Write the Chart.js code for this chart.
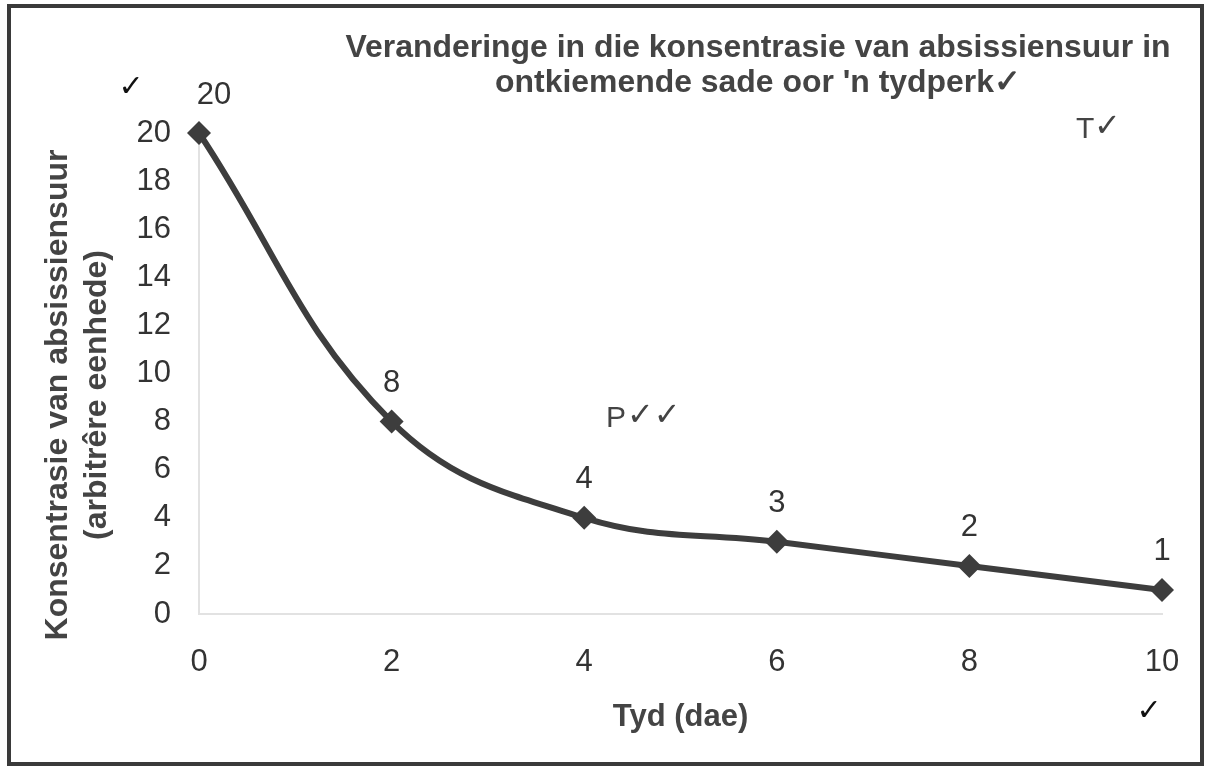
<!DOCTYPE html>
<html>
<head>
<meta charset="utf-8">
<script src="https://cdn.jsdelivr.net/npm/chart.js@4.4.1/dist/chart.umd.min.js"></script>
<style>
    html, body { margin: 0; padding: 0; background: #fff; }
    #wrap { width: 1206px; height: 768px; }
</style>
</head>
<body>
<div id="wrap"><canvas id="graph"></canvas></div>
<script>
// data
const days = [0, 2, 4, 6, 8, 10];
const concentration = [20, 8, 4, 3, 2, 1];

const titleLines = ['Veranderinge in die konsentrasie van absissiensuur in', "ontkiemende sade oor 'n tydperk\u2713"];
const yTitleLines = ['Konsentrasie van absissiensuur', '(arbitr\u00eare eenhede)'];
const xTitle = 'Tyd (dae)';

const FONT = '"Liberation Sans", Arial, sans-serif';

const ctx = document.querySelector('#graph').getContext('2d');

const decorations = {
    id: 'decorations',
    afterDraw(chart) {
        const c = chart.ctx;
        const area = chart.chartArea;
        c.save();

        // frame of the scan
        c.strokeStyle = '#3a3a3a';
        c.lineWidth = 4;
        c.strokeRect(9, 6, 1193, 758);

        // main title, slightly condensed like the original
        c.fillStyle = '#444';
        c.font = 'bold 32px ' + FONT;
        c.textAlign = 'center';
        c.textBaseline = 'middle';
        const sx = 825 / c.measureText(titleLines[0]).width;
        titleLines.forEach((line, i) => {
            c.save();
            c.translate(758, 48 + i * 35);
            c.scale(sx, 1);
            c.fillText(line, 0, 0);
            c.restore();
        });

        // y axis title (two lines, rotated)
        c.save();
        c.translate(58, 395);
        c.rotate(-Math.PI / 2);
        c.font = 'bold 32px ' + FONT;
        c.fillText(yTitleLines[0], 0, 0);
        c.fillText(yTitleLines[1], 0, 39);
        c.restore();

        // x axis title
        c.font = 'bold 31px ' + FONT;
        c.fillText(xTitle, (area.left + area.right) / 2, 717);

        // value labels above the points
        const meta = chart.getDatasetMeta(0);
        c.fillStyle = '#333';
        c.font = '31px ' + FONT;
        meta.data.forEach((pt, i) => {
            const dx = i === 0 ? 15 : 0;
            c.fillText(String(concentration[i]), pt.x + dx, pt.y - 38);
        });

        // marker's ticks
        c.fillStyle = '#111';
        c.font = 'bold 30px "DejaVu Sans", sans-serif';
        c.fillText('\u2713', 131, 88);
        c.fillText('\u2713', 1149, 712);
        c.fillStyle = '#444';
        c.font = '30px ' + FONT;
        c.textAlign = 'left';
        c.fillText('T', 1076, 130);
        c.fillText('P', 606, 419);
        c.font = 'bold 32px "DejaVu Sans", sans-serif';
        c.fillText('\u2713', 1094, 128);
        c.fillText('\u2713\u2713', 627, 417);

        c.restore();
    }
};

const lineChart = new Chart(ctx, {
    type: 'line',
    data: {
        datasets: [{
            label: 'Absissiensuur',
            data: days.map((d, i) => ({x: d, y: concentration[i]})),
            borderColor: '#3d3d3d',
            borderWidth: 6,
            tension: 0.4,
            pointStyle: 'rectRot',
            pointRadius: 12,
            pointBackgroundColor: '#3d3d3d',
            pointBorderWidth: 0,
            clip: false
        }]
    },
    plugins: [decorations],
    options: {
        responsive: true,
        maintainAspectRatio: false,
        animation: false,
        layout: {
            padding: {top: 133, right: 44, bottom: 0, left: 0}
        },
        plugins: {
            legend: {display: false},
            tooltip: {enabled: false},
            title: {display: false}
        },
        scales: {
            x: {
                type: 'linear',
                min: 0,
                max: 10,
                ticks: {
                    stepSize: 2,
                    color: '#333',
                    font: {family: FONT, size: 31},
                    padding: 22
                },
                grid: {display: false},
                border: {color: '#e2e2e2', width: 2},
                afterFit: function (scale) {
                    scale.height = 154;
                }
            },
            y: {
                min: 0,
                max: 20,
                ticks: {
                    stepSize: 2,
                    color: '#333',
                    font: {family: FONT, size: 31},
                    padding: 20
                },
                grid: {display: false},
                border: {color: '#e2e2e2', width: 2},
                afterFit: function (scale) {
                    scale.width = 199;
                }
            }
        }
    }
});
</script>
</body>
</html>
